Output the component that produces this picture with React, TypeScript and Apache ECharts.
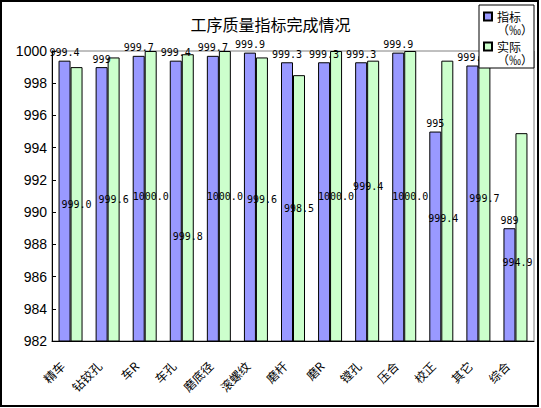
import React, { useEffect, useRef } from "react";
import * as echarts from "echarts";

const categories = ["精车", "钻铰孔", "车R", "车孔", "磨底径", "滚螺纹", "磨杆", "磨R", "镗孔", "压合", "校正", "其它", "综合"];
const targetValues = [999.4, 999, 999.7, 999.4, 999.7, 999.9, 999.3, 999.3, 999.3, 999.9, 995, 999.1, 989];
const actualValues = [999.0, 999.6, 1000.0, 999.8, 1000.0, 999.6, 998.5, 1000.0, 999.4, 1000.0, 999.4, 999.7, 994.9];
const seriesNames = ["指标", "实际"];
const unitText = "（‰）";
const yMin = 982;
const yMax = 1000;
const yInterval = 2;
// label nudges (style only) for the "实际" value labels, [dx, dy] in px
const actualLabelNudge: [number, number][] = [
  [0, 0], [0, 0], [0, 0], [0, 39], [0, 0], [0, 0], [0, 0], [0, 0], [-5, -15], [0, 0], [-4, 17], [0, 0], [-4, 25],
];

const CJK = "'Noto Sans CJK SC', sans-serif";
const MONO = "'DejaVu Sans Mono', monospace";

export default function App() {
  const ref = useRef<HTMLDivElement>(null);
  useEffect(() => {
    document.body.style.margin = "0";
    if (!ref.current) return;
    const chart = echarts.init(ref.current, undefined, { renderer: "svg" });
    const labelBase = {
      show: true,
      color: "#000",
      fontFamily: MONO,
      fontSize: 10,
      textBorderWidth: 0,
    };
    chart.setOption({
      animation: false,
      backgroundColor: "#fff",
      title: {
        text: "工序质量指标完成情况",
        left: "center",
        top: 11,
        textStyle: { fontFamily: CJK, fontSize: 16, fontWeight: "normal", color: "#000" },
      },
      legend: {
        orient: "vertical",
        left: 479,
        top: 5,
        padding: [4, 1, 1, 4],
        itemGap: 2,
        itemWidth: 8,
        itemHeight: 26,
        icon: "path://M0,0M0,2.5H8V10.5H0ZM8,26",
        backgroundColor: "#fff",
        borderColor: "#000",
        borderWidth: 1,
        data: seriesNames,
        formatter: (name: string) => name + "\n" + unitText,
        textStyle: { fontFamily: CJK, fontSize: 12, lineHeight: 13, color: "#000" },
      },
      grid: {
        left: 52,
        right: 7,
        top: 51,
        bottom: 67,
        show: true,
        borderColor: "#808080",
        borderWidth: 1,
        backgroundColor: "transparent",
      },
      xAxis: {
        type: "category",
        data: categories,
        axisLine: { lineStyle: { color: "#000", width: 1 } },
        axisTick: { inside: true, length: 4, lineStyle: { color: "#000" } },
        axisLabel: {
          interval: 0,
          rotate: 45,
          margin: 14,
          padding: [0, 12, 0, 0],
          fontFamily: CJK,
          fontSize: 12,
          color: "#000",
        },
      },
      yAxis: {
        type: "value",
        min: yMin,
        max: yMax,
        interval: yInterval,
        axisLine: { show: true, lineStyle: { color: "#000", width: 1 } },
        axisTick: { show: true, inside: true, length: 4, lineStyle: { color: "#000" } },
        splitLine: { show: false },
        axisLabel: {
          fontFamily: "'Liberation Sans', Arial, sans-serif",
          fontSize: 14,
          color: "#000",
          margin: 5,
          formatter: (v: number) => String(v),
        },
      },
      series: [
        {
          name: seriesNames[0],
          type: "bar",
          barWidth: 12,
          barGap: "0%",
          data: targetValues,
          itemStyle: { color: "#9999FF", borderColor: "#000", borderWidth: 1 },
          label: { ...labelBase, position: "top", distance: 3, formatter: (p: any) => String(p.value) },
        },
        {
          name: seriesNames[1],
          type: "bar",
          barWidth: 12,
          barGap: "0%",
          data: actualValues.map((v, i) => ({ value: v, label: { offset: actualLabelNudge[i] } })),
          itemStyle: { color: "#CCFFCC", borderColor: "#000", borderWidth: 1 },
          label: { ...labelBase, position: "inside", formatter: (p: any) => Number(p.value).toFixed(1) },
        },
      ],
      graphic: [
        {
          type: "rect",
          shape: { x: 1, y: 1, width: 537, height: 405 },
          style: { fill: "none", stroke: "#000", lineWidth: 2 },
          silent: true,
          z: 10,
        },
      ],
    });
    return () => chart.dispose();
  }, []);
  return <div ref={ref} style={{ width: 541, height: 408 }} />;
}
